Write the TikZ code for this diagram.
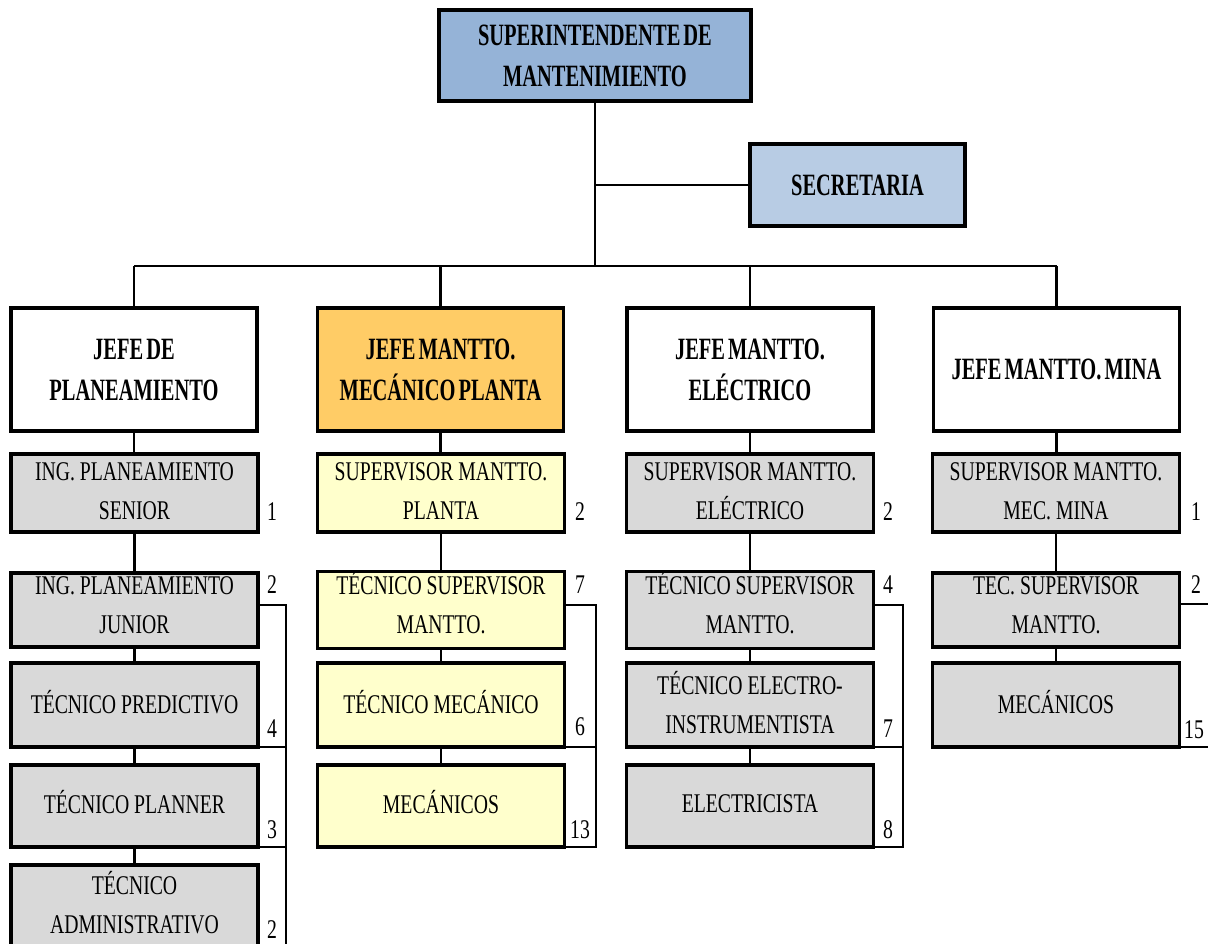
\documentclass[tikz,border=0pt]{standalone}
\usepackage{fontspec}
\newfontfamily\normfont[FakeStretch=0.73]{Liberation Serif}
\newfontfamily\headfont[FakeStretch=0.66,WordSpace=0.6]{Liberation Serif}
\definecolor{supblue}{HTML}{95B3D7}
\definecolor{secblue}{HTML}{B8CCE4}
\definecolor{jefeorange}{HTML}{FFCC66}
\definecolor{paleyellow}{HTML}{FFFFCC}
\definecolor{boxgrey}{HTML}{D9D9D9}
\def\liftdepth{0pt}
\begin{document}
\begin{tikzpicture}[x=1pt,y=-1pt,
  box/.style={draw=black, line width=3.2pt, rectangle, inner sep=0pt, outer sep=0pt,
    align=center, font=\normfont\fontsize{27}{39.5}\selectfont,
    execute at end node={\rule[-\liftdepth]{0pt}{\liftdepth}}},
  lift/.code={\def\liftdepth{#1}},
  head/.style={box, font=\headfont\bfseries\fontsize{31}{41}\selectfont},
  jefe/.style={head, fill=white, minimum width=246pt, minimum height=123pt},
  greybox/.style={box, fill=boxgrey, minimum width=247pt},
  yelbox/.style={box, fill=paleyellow, minimum width=247pt},
  r3/.style={minimum height=78pt, lift=4pt},
  r4/.style={minimum height=74pt, lift=15pt},
  r5/.style={minimum height=84pt, lift=6pt},
  r6/.style={minimum height=82pt, lift=9pt},
  r7/.style={minimum height=85pt, lift=10pt},
  link/.style={line width=2.8pt},
  count/.style={anchor=base, inner sep=0pt, font=\normfont\fontsize{27}{30}\selectfont}]
\useasboundingbox (0,0) rectangle (1208,943);
\begin{scope}
\clip (0,0) rectangle (1208,943);

% top of the hierarchy
\node[head, fill=supblue, minimum width=312pt, minimum height=91pt] (sup) at (595,55.5)
  {SUPERINTENDENTE DE\\MANTENIMIENTO};
\node[head, fill=secblue, minimum width=215pt, minimum height=82pt] (sec) at (857.5,185)
  {SECRETARIA};

% heads of area
\node[jefe] (j1) at (134,369.5) {JEFE DE\\PLANEAMIENTO};
\node[jefe, fill=jefeorange] (j2) at (440.5,369.5) {JEFE MANTTO.\\MECÁNICO PLANTA};
\node[jefe] (j3) at (750,369.5) {JEFE MANTTO.\\ELÉCTRICO};
\node[jefe] (j4) at (1056.5,369.5) {JEFE MANTTO. MINA};

% planning
\node[greybox, r3] (c1r3) at (134.5,493) {ING. PLANEAMIENTO\\SENIOR};
\node[greybox, r4, lift=10pt] (c1r4) at (134.5,610) {ING. PLANEAMIENTO\\JUNIOR};
\node[greybox, r5] (c1r5) at (134.5,705) {TÉCNICO PREDICTIVO};
\node[greybox, r6] (c1r6) at (134.5,806) {TÉCNICO PLANNER};
\node[greybox, r7] (c1r7) at (134.5,907.5) {TÉCNICO\\ADMINISTRATIVO};

% plant mechanics
\node[yelbox, r3] (c2r3) at (441,493) {SUPERVISOR MANTTO.\\PLANTA};
\node[yelbox, r4] (c2r4) at (441,610) {TÉCNICO SUPERVISOR\\MANTTO.};
\node[yelbox, r5] (c2r5) at (441,705) {TÉCNICO MECÁNICO};
\node[yelbox, r6] (c2r6) at (441,806) {MECÁNICOS};

% electrical
\node[greybox, r3] (c3r3) at (750,493) {SUPERVISOR MANTTO.\\ELÉCTRICO};
\node[greybox, r4] (c3r4) at (750,610) {TÉCNICO SUPERVISOR\\MANTTO.};
\node[greybox, r5, lift=5pt] (c3r5) at (750,705) {TÉCNICO ELECTRO-\\INSTRUMENTISTA};
\node[greybox, r6, lift=4pt] (c3r6) at (750,806) {ELECTRICISTA};

% mine
\node[greybox, r3] (c4r3) at (1056,493) {SUPERVISOR MANTTO.\\MEC. MINA};
\node[greybox, r4, lift=10pt] (c4r4) at (1056,610) {TEC. SUPERVISOR\\MANTTO.};
\node[greybox, r5] (c4r5) at (1056,705) {MECÁNICOS};

% head counts
\node[count] (h13) at (272,520) {1};
\node[count] (h14) at (272,593) {2};
\node[count] (h15) at (272,737) {4};
\node[count] (h16) at (272,838) {3};
\node[count] (h17) at (272,938) {2};
\node[count] (h23) at (580,520) {2};
\node[count] (h24) at (580,593) {7};
\node[count] (h25) at (580,735) {6};
\node[count] (h26) at (580,838) {13};
\node[count] (h33) at (888,520) {2};
\node[count] (h34) at (888,593) {4};
\node[count] (h35) at (888,737) {7};
\node[count] (h36) at (888,838) {8};
\node[count] (h43) at (1196,520) {1};
\node[count] (h44) at (1196,593) {2};
\node[count] (h45) at (1194,738) {15};

% main connectors
\coordinate (bus) at (0,266);
\draw[link] (sup.south) -- (sup.south |- bus);
\draw[link] (sup.south |- sec.west) -- (sec.west);
\draw[link] (j1.north |- bus) -- (j4.north |- bus);
\foreach \j in {j1,j2,j3,j4}{
  \draw[link] (\j.north |- bus) -- (\j.north);
}

% column connectors
\draw[link] (j1.south) -- (j1.south |- c1r3.north);
\draw[link] (c1r3.south) -- (c1r3.south |- c1r4.north);
\draw[link] (c1r4.south) -- (c1r4.south |- c1r5.north);
\draw[link] (c1r5.south) -- (c1r5.south |- c1r6.north);
\draw[link] (c1r6.south) -- (c1r6.south |- c1r7.north);
\foreach \c/\j in {2/j2,3/j3}{
  \draw[link] (\j.south) -- (\j.south |- c\c r3.north);
  \draw[link] (c\c r3.south) -- (c\c r3.south |- c\c r4.north);
  \draw[link] (c\c r4.south) -- (c\c r4.south |- c\c r5.north);
  \draw[link] (c\c r5.south) -- (c\c r5.south |- c\c r6.north);
}
\draw[link] (j4.south) -- (j4.south |- c4r3.north);
\draw[link] (c4r3.south) -- (c4r3.south |- c4r4.north);
\draw[link] (c4r4.south) -- (c4r4.south |- c4r5.north);

% side brackets grouping the technical staff
\coordinate (k1) at (286,605);
\coordinate (k1end) at (286,960);
\coordinate (k2) at (596,605);
\coordinate (k3) at (903,605);
\coordinate (k4) at (1216,604);
\draw[link] (c1r4.east |- k1) -- (k1) -- (k1end);
\draw[link] (c1r5.south east) -- (c1r5.south east -| k1);
\draw[link] (c1r6.south east) -- (c1r6.south east -| k1);
\draw[link] (c2r4.east |- k2) -- (k2) -- (k2 |- c2r6.south east) -- (c2r6.south east);
\draw[link] (c2r5.south east) -- (c2r5.south east -| k2);
\draw[link] (c3r4.east |- k3) -- (k3) -- (k3 |- c3r6.south east) -- (c3r6.south east);
\draw[link] (c3r5.south east) -- (c3r5.south east -| k3);
\draw[link] (c4r4.east |- k4) -- (k4) -- (k4 |- c4r5.south east) -- (c4r5.south east);
\end{scope}
\end{tikzpicture}
\end{document}
